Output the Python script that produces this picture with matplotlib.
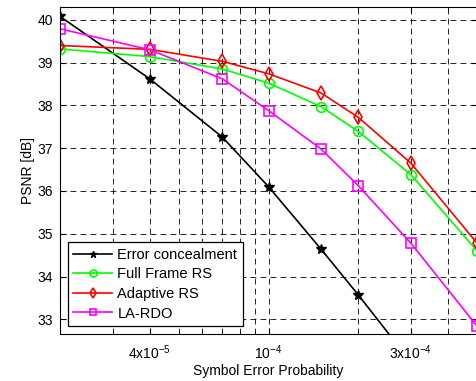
import numpy as np
import matplotlib
matplotlib.use('Agg')
import matplotlib.pyplot as plt
from matplotlib.ticker import FixedLocator, NullFormatter

plt.rcParams['font.family'] = ['Liberation Sans', 'DejaVu Sans']
plt.rcParams['mathtext.fontset'] = 'custom'
plt.rcParams['mathtext.rm'] = 'Liberation Sans'
plt.rcParams['mathtext.it'] = 'Liberation Sans'
plt.rcParams['mathtext.bf'] = 'Liberation Sans'

# symbol error probability
ser = [2e-5, 4e-5, 7e-5, 1e-4, 1.5e-4, 2e-4, 3e-4, 5e-4]

# PSNR [dB]
err_conceal = [40.08, 38.62, 37.26, 36.10, 34.64, 33.57, 32.0, 30.0]
full_rs = [39.32, 39.14, 38.85, 38.52, 37.97, 37.39, 36.38, 34.60]
adaptive_rs = [39.40, 39.31, 39.03, 38.74, 38.29, 37.72, 36.65, 34.78]
la_rdo = [39.79, 39.30, 38.62, 37.88, 36.98, 36.12, 34.78, 32.84]

xticks = [4e-5, 1e-4, 3e-4]
xticklabels = ['4x10$^{-5}$', '10$^{-4}$', '3x10$^{-4}$']
minor_x = [3e-5, 5e-5, 6e-5, 7e-5, 8e-5, 9e-5, 2e-4, 4e-4]

fig = plt.figure(figsize=(4.77, 3.81), dpi=100)
ax = fig.add_axes([60 / 477, 47 / 381, 417 / 477, 327 / 381])

ax.plot(ser, err_conceal, color='black', marker='*', markersize=7, lw=1.2,
        markerfacecolor='black', label='Error concealment')
ax.plot(ser, full_rs, color='#00ff00', marker='o', markersize=7, lw=1.2,
        markerfacecolor='none', markeredgewidth=1.2, label='Full Frame RS')
ax.plot(ser, adaptive_rs, color='red', marker='d', markersize=7, lw=1.2,
        markerfacecolor='none', markeredgewidth=1.2, label='Adaptive RS')
ax.plot(ser, la_rdo, color='magenta', marker='s', markersize=6.5, lw=1.2,
        markerfacecolor='none', markeredgewidth=1.2, label='LA-RDO')

ax.set_xscale('log')
ax.set_xlim(2e-5, 5e-4)
ax.set_ylim(32.656, 40.30)
ax.set_xticks(xticks)
ax.set_xticklabels(xticklabels)
ax.xaxis.set_minor_locator(FixedLocator(minor_x))
ax.xaxis.set_minor_formatter(NullFormatter())
ax.set_yticks(range(33, 41))

ax.grid(True, which='both', color='black', linestyle=(0, (7, 5)), lw=0.6)
ax.tick_params(which='both', direction='in', labelsize=10, top=True, right=True)
ax.tick_params(which='major', length=4)
ax.tick_params(which='minor', length=2)
ax.tick_params(axis='x', pad=7)
ax.tick_params(axis='y', pad=5)

ax.set_xlabel('Symbol Error Probability', fontsize=10, labelpad=1)
ax.set_ylabel('PSNR [dB]', fontsize=10, labelpad=2)

leg = ax.legend(loc='lower left', fontsize=10.5, fancybox=False, framealpha=1,
                edgecolor='black', handlelength=2.67, labelspacing=0.38,
                borderaxespad=0.52, handletextpad=0.34, borderpad=0.4)
leg.get_frame().set_linewidth(0.9)
for h in leg.legend_handles:
    h.set_markersize(5)

plt.savefig('out.png', dpi=100)
